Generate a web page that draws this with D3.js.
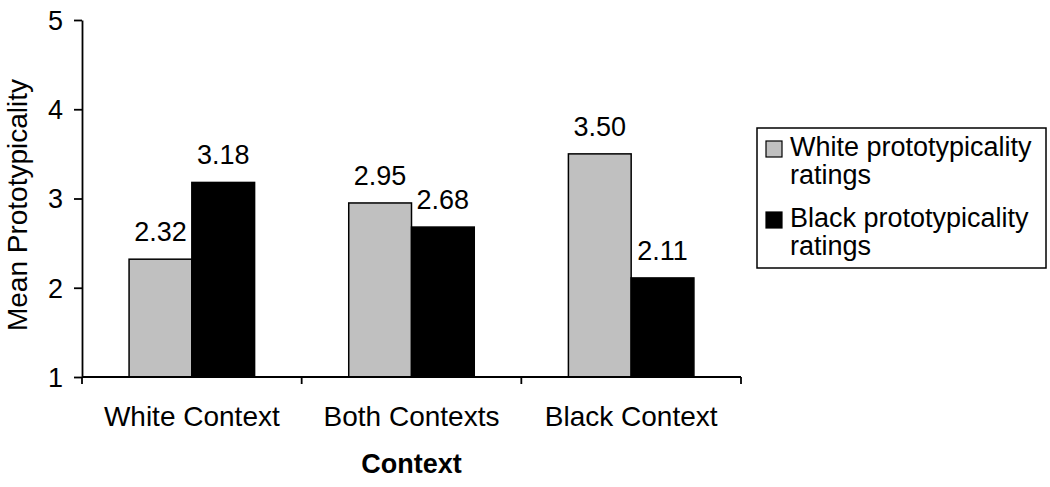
<!DOCTYPE html>
<html>
<head>
<meta charset="utf-8">
<script src="https://cdn.jsdelivr.net/npm/d3@7"></script>
<style>
  body { margin: 0; background: #fff; }
  svg { display: block; font-family: "Liberation Sans", Arial, sans-serif; }
  .axis path, .axis line { stroke: #000; stroke-width: 1.8px; }
  .axis text { font-size: 27px; fill: #000; }
</style>
</head>
<body>
<svg id="chart" width="1050" height="487"></svg>
<script>
var categories = ["White Context", "Both Contexts", "Black Context"]
var seriesNames = ["White prototypicality ratings", "Black prototypicality ratings"]
var whiteRatings = [2.32, 2.95, 3.50]
var blackRatings = [3.18, 2.68, 2.11]
var yTicks = [1, 2, 3, 4, 5]
var colors = ["#c0c0c0", "#000000"]

var svg = d3.select("#chart")
var plotLeft = 82, plotRight = 741, plotTop = 20, plotBottom = 377

var x0 = d3.scaleBand().domain(categories).range([plotLeft, plotRight]).padding(0)
var x1 = d3.scaleBand().domain(seriesNames).range([0, x0.bandwidth()]).paddingInner(0).paddingOuter(0.75)
var y = d3.scaleLinear().domain([1, 5]).range([plotBottom, plotTop])

var rows = categories.map(function (c, i) {
  return { cat: c, values: [whiteRatings[i], blackRatings[i]] }
})

// bars
var groups = svg.selectAll(".grp").data(rows).enter().append("g")
  .attr("class", "grp")
  .attr("transform", function (d) { return "translate(" + x0(d.cat) + ",0)" })

groups.selectAll("rect").data(function (d) {
  return d.values.map(function (v, j) { return { name: seriesNames[j], v: v, j: j } })
}).enter().append("rect")
  .attr("x", function (d) { return x1(d.name) })
  .attr("y", function (d) { return y(d.v) })
  .attr("width", x1.bandwidth())
  .attr("height", function (d) { return y(1) - y(d.v) })
  .attr("fill", function (d) { return colors[d.j] })
  .attr("stroke", "#000")
  .attr("stroke-width", 1.5)

groups.selectAll("text").data(function (d) {
  return d.values.map(function (v, j) { return { name: seriesNames[j], v: v } })
}).enter().append("text")
  .attr("x", function (d) { return x1(d.name) + x1.bandwidth() / 2 })
  .attr("y", function (d) { return y(d.v) - 18 })
  .attr("text-anchor", "middle")
  .attr("font-size", 27)
  .text(function (d) { return d.v.toFixed(2) })

// y axis
var yAxis = svg.append("g").attr("class", "axis")
  .attr("transform", "translate(" + plotLeft + ",0)")
  .call(d3.axisLeft(y).tickValues(yTicks).tickFormat(d3.format("d"))
    .tickSize(8).tickPadding(11).tickSizeOuter(0))
yAxis.selectAll("text").attr("dy", "0.35em")

// x axis: line, boundary ticks, labels
var xg = svg.append("g").attr("class", "axis")
xg.append("line").attr("x1", plotLeft).attr("x2", plotRight).attr("y1", plotBottom).attr("y2", plotBottom)
var bounds = categories.map(function (c) { return x0(c) }).concat([x0.range()[1]])
xg.selectAll(".bt").data(bounds).enter().append("line")
  .attr("x1", function (d) { return d }).attr("x2", function (d) { return d })
  .attr("y1", plotBottom).attr("y2", plotBottom + 7)
xg.selectAll(".lbl").data(categories).enter().append("text")
  .attr("x", function (d) { return x0(d) + x0.bandwidth() / 2 })
  .attr("y", 426)
  .attr("text-anchor", "middle")
  .style("font-size", "28px")
  .text(function (d) { return d })

// titles
svg.append("text")
  .attr("x", (plotLeft + plotRight) / 2).attr("y", 473)
  .attr("text-anchor", "middle")
  .attr("font-size", 27).attr("font-weight", "bold")
  .text("Context")

svg.append("text")
  .attr("transform", "translate(27,205) rotate(-90)")
  .attr("text-anchor", "middle")
  .attr("font-size", 28)
  .text("Mean Prototypicality")

// legend
var legend = svg.append("g")
legend.append("rect")
  .attr("x", 757).attr("y", 128).attr("width", 289).attr("height", 140)
  .attr("fill", "#fff").attr("stroke", "#000").attr("stroke-width", 1.5)

var legendItems = legend.selectAll(".li").data(seriesNames).enter().append("g")
  .attr("transform", function (d, i) { return "translate(0," + (i * 71) + ")" })
legendItems.append("rect")
  .attr("x", 766).attr("y", 141).attr("width", 16).attr("height", 16)
  .attr("fill", function (d, i) { return colors[i] })
  .attr("stroke", "#000").attr("stroke-width", 1.2)
legendItems.append("text")
  .attr("x", 790).attr("y", 156)
  .attr("font-size", 27)
  .text(function (d) { return d.replace(" ratings", "") })
legendItems.append("text")
  .attr("x", 790).attr("y", 184)
  .attr("font-size", 27)
  .text("ratings")
</script>
</body>
</html>
